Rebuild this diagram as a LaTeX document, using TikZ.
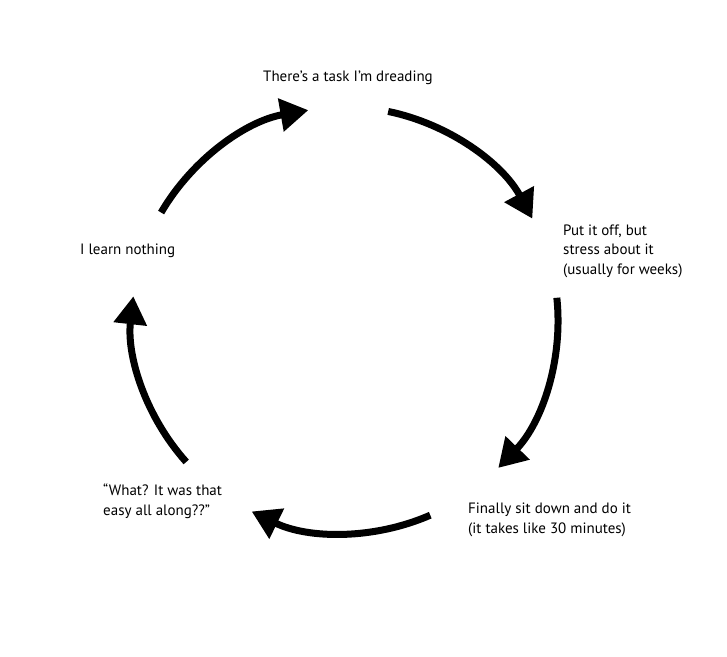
\documentclass[tikz,border=0pt]{standalone}
\usepackage{fontspec}
\setmainfont{PT Sans}
\usetikzlibrary{arrows.meta}

\tikzset{
  phase/.style={align=left, inner sep=0pt, font=\fontsize{15}{19.5}\selectfont},
  cyc/.style={line width=7pt, -{Triangle[length=28pt,width=32pt]}}
}

\begin{document}
\begin{tikzpicture}[x=1pt,y=-1pt]
        \useasboundingbox (0,0) rectangle (727,656);
        \coordinate (c) at (345,320);

        % the five steps
        \node[phase] (dread) at (348,78) {There’s a task I’m dreading};
        \node[phase, anchor=west] (stress) at (563,251) {Put it off, but\\stress about it\\(usually for weeks)};
        \node[phase, anchor=west] (doit) at (468,520) {Finally sit down and do it\\(it takes like 30 minutes)};
        \node[phase, anchor=west] (easy) at (103,501) {“What? It was that\\easy all along??”};
        \node[phase, anchor=west] (learn) at (80,251) {I learn nothing};

        % arrows round the circle
        \draw[cyc] ([shift={(-78.3:213)}]c) arc[start angle=-78.3, end angle=-28.4, radius=213];
        \draw[cyc] ([shift={(-6:213)}]c) arc[start angle=-6, end angle=44, radius=213];
        \draw[cyc] ([shift={(66.4:213)}]c) arc[start angle=66.4, end angle=116, radius=213];
        \draw[cyc] ([shift={(138.2:213)}]c) arc[start angle=138.2, end angle=186.4, radius=213];
        \draw[cyc] ([shift={(-149.7:213)}]c) arc[start angle=-149.7, end angle=-99.9, radius=213];
\end{tikzpicture}
\end{document}
